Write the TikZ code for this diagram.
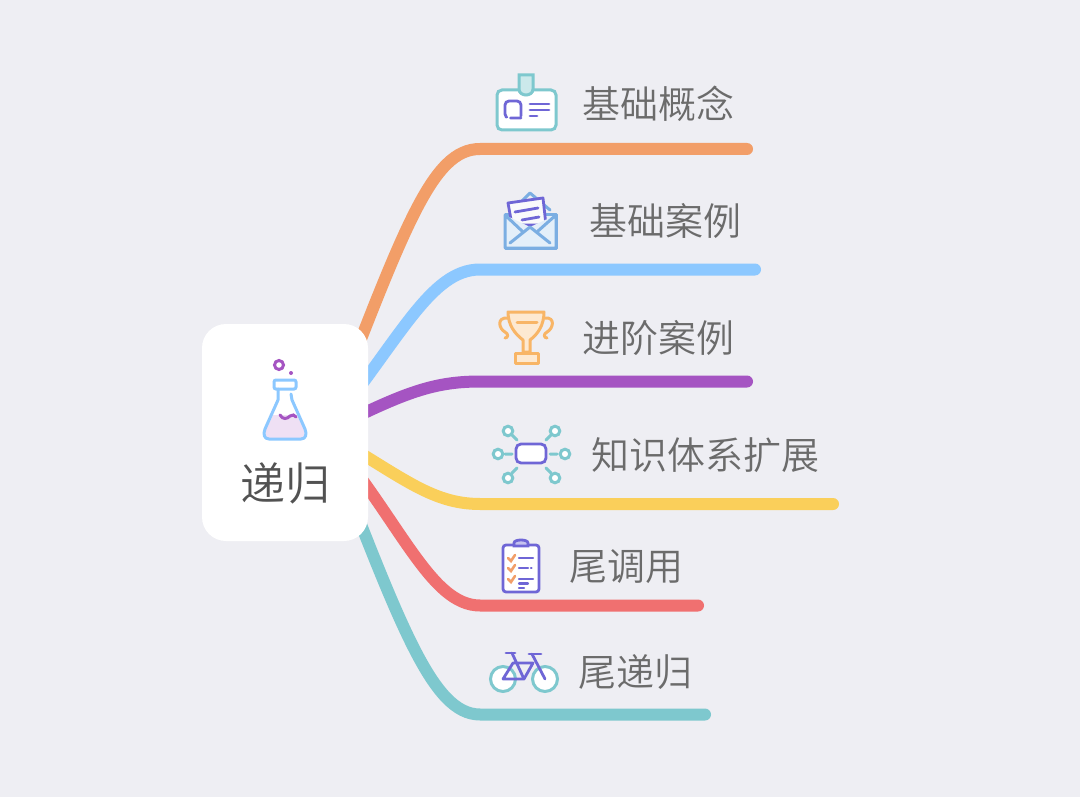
\documentclass[tikz,border=0pt]{standalone}
\usepackage{fontspec}
\setmainfont{Noto Sans CJK SC DemiLight}
\usetikzlibrary{arrows}
\pgfdeclarelayer{bg}
\pgfsetlayers{bg,main}
\definecolor{pagebg}{HTML}{EEEEF3}
\definecolor{cOrange}{HTML}{F29E68}
\definecolor{cBlue}{HTML}{8CC8FF}
\definecolor{cPurple}{HTML}{A554C2}
\definecolor{cYellow}{HTML}{FACF5A}
\definecolor{cRed}{HTML}{F07070}
\definecolor{cTeal}{HTML}{7EC8CE}
\definecolor{cIndigo}{HTML}{6F66D6}
\definecolor{cGold}{HTML}{F8B566}
\definecolor{cMail}{HTML}{7BAEE2}

\tikzset{
  idcard/.pic={
    \draw[teal line,fill=white,rounded corners=5pt] (-29,-12) rectangle (30,28);
    \draw[teal line,fill=cTeal!40] (-7,-27) -- (7,-27) -- (7,-13) .. controls (7,-5) and (-7,-5) .. (-7,-13) -- cycle;
    \draw[indigo line,rounded corners=4pt,dash pattern=on 44pt off 4pt on 16pt off 0pt] (-5,14) -- (-5,-1) -- (-21,-1) -- (-21,16) -- (-5,16);
    \draw[indigo line] (4,2) -- (23,2) (4,8) -- (23,8) (4,14) -- (11,14);
  },
  mailopen/.pic={
    \draw[mail line] (-10,-17) -- (0,-27) -- (20,-10);
    \draw[mail line,fill=cMail!20] (-25,-5) -- (-25,28) -- (26,28) -- (26,-5) -- cycle;
    \draw[indigo line,fill=pagebg!30!white,line join=round] (-22,-17) -- (13,-22) -- (16,5) -- (-18,5) -- cycle;
    \draw[indigo line] (-15,-8) -- (8,-12) (-8,0) -- (9,-3);
    \fill[cMail!20] (-25,-5) -- (0,7) -- (26,-5) -- (26,28) -- (-25,28) -- cycle;
    \draw[mail line] (-25,-5) -- (-25,28) -- (26,28) -- (26,-5) -- (8,11) (-8,11) -- (-25,-5) (-20,23) -- (0,7) -- (20,23);
  },
  trophy/.pic={
    \draw[gold line,fill=cGold!30] (-18,-25) -- (18,-25) .. controls (18,-12) and (12,-3) .. (4,3) -- (4,15) -- (-3,15) -- (-3,3) .. controls (-11,-3) and (-18,-12) .. cycle;
    \draw[gold line,fill=cGold!30] (-11,16) rectangle (12,26);
    \draw[gold line] (-18,-19) .. controls (-30,-20) and (-27,-8) .. (-21,-5) .. controls (-17,-3) and (-18,1) .. (-21,1);
    \draw[gold line] (19,-19) .. controls (30,-20) and (27,-8) .. (21,-5) .. controls (17,-3) and (18,1) .. (21,1);
    \draw[gold line] (-9,-15) -- (11,-15);
  },
  hubnet/.pic={
    \draw[indigo line,fill=white,rounded corners=5pt] (-15,-10) rectangle (15,9);
    \foreach \cx/\cy/\ax/\ay/\bx/\by in {-23/-23/-19/-19/-14/-14, 24/-23/20/-19/15/-14, -33/0/-26/0/-19/0, 34/0/26/0/19/0, -23/24/-19/19/-14/14, 24/24/20/19/15/14}
      \draw[teal line,fill=white] (\cx,\cy) circle (4.8) (\ax,\ay) -- (\bx,\by);
  },
  clipboard/.pic={
    \draw[indigo line,fill=white,rounded corners=3pt] (-18,-23) rectangle (18,24);
    \draw[indigo line,fill=cIndigo!40] (-7,-22) -- (-7,-25) .. controls (-7,-29) and (7,-29) .. (7,-25) -- (7,-22) -- cycle;
    \foreach \cy in {-10,0,11}
      \draw[check line] (-13,\cy) -- (-10,\cy+3) -- (-6,\cy-3);
    \draw[indigo line,line width=2.2pt] (-2,-10) -- (12,-10) (-2,0) -- (7,0) (10,0) -- (10.5,0) (-2,11) -- (12,11) (-2,15.5) -- (7,15.5) (-2,20) -- (3,20);
  },
  bike/.pic={
    \draw[teal line,fill=white] (-21,12) circle (12.5) (21,12) circle (12.5);
    \draw[indigo line] (-18,-14) -- (-9,-14) (5,-13) -- (17,-13);
    \draw[indigo line,line join=round] (-21,12) -- (-11,-4) -- (9,-4) -- (0,12) -- (-21,12) (-12,-14) -- (0,12) (8,-13) -- (21,12);
  },
  flask/.pic={
    \fill[cPurple!18] (-12,-17) -- (12,-17) -- (20,0) -- (18,6) -- (-18,6) -- (-20,0) -- cycle;
    \draw[flask line,rounded corners=2pt] (-11,-52) rectangle (11,-43);
    \draw[flask line,line join=round] (-7,-43) -- (-7,-32) -- (-20,-3) .. controls (-22,2) and (-21,7) .. (-16,7) -- (16,7) .. controls (21,7) and (22,2) .. (20,-3) -- (7,-32) -- (6,-38);
    \draw[cPurple,line width=3pt] (-6,-67) circle (4.5);
    \fill[cPurple] (6,-59) circle (2);
    \draw[cPurple,line width=3pt,line cap=round] (-5,-17) .. controls (-2,-12) and (2,-13) .. (5,-16) .. controls (7,-18) and (10,-17) .. (11,-15);
  }
}

\begin{document}
\begin{tikzpicture}[x=1pt,y=-1pt,
  teal line/.style={cTeal,line width=3pt,line cap=round},
  indigo line/.style={cIndigo,line width=2.8pt,line cap=round},
  mail line/.style={cMail,line width=3pt,line join=round,line cap=round},
  gold line/.style={cGold,line width=3pt,line join=round,line cap=round},
  flask line/.style={cBlue,line width=3pt,line cap=round},
  check line/.style={cOrange,line width=2.6pt,line cap=round},
  branch/.style={line width=12pt,line cap=round},
  root node/.style={fill=white,rounded corners=24pt,minimum width=166pt,minimum height=217pt,inner sep=0pt},
  root text/.style={text=black!68,font=\fontsize{45}{50}\selectfont,inner sep=0pt},
  topic node/.style={text=black!58,font=\fontsize{38}{42}\selectfont,inner sep=0pt}]
  \useasboundingbox (0,0) rectangle (1080,797);

  \node[root node] (root) at (285,432.5) {};
  \node[root text] (rootlabel) at (285,483) {递归};
  \pic at (285,432) {flask};

  \node[topic node] (concept) at (658,104) {基础概念};
  \node[topic node] (basic) at (665,221) {基础案例};
  \node[topic node] (advanced) at (658,338) {进阶案例};
  \node[topic node] (system) at (705,455) {知识体系扩展};
  \node[topic node] (tailcall) at (626.5,567) {尾调用};
  \node[topic node] (tailrec) at (635,672) {尾递归};

  \pic at (526,102) {idcard};
  \pic at (530,220) {mailopen};
  \pic at (526,337) {trophy};
  \pic at (531,454) {hubnet};
  \pic at (521,568) {clipboard};
  \pic at (524,667) {bike};

  \coordinate (hub) at (325,432);
  \coordinate (concept bend) at (480,149);
  \coordinate (concept end) at (747,149);
  \coordinate (basic bend) at (480,269.5);
  \coordinate (basic end) at (755,269.5);
  \coordinate (advanced bend) at (480,381.5);
  \coordinate (advanced end) at (747,381.5);
  \coordinate (system bend) at (480,504);
  \coordinate (system end) at (833,504);
  \coordinate (tailcall bend) at (480,605.5);
  \coordinate (tailcall end) at (698,605.5);
  \coordinate (tailrec bend) at (480,714.5);
  \coordinate (tailrec end) at (705,714.5);

  \begin{pgfonlayer}{bg}
    \fill[pagebg] (0,0) rectangle (1080,797);
    \draw[branch,cTeal] (hub) .. controls (400,625) and (432,714.5) .. (tailrec bend) -- (tailrec end);
    \draw[branch,cRed] (hub) .. controls (400,520) and (430,605.5) .. (tailcall bend) -- (tailcall end);
    \draw[branch,cYellow] (hub) .. controls (400,475) and (430,504) .. (system bend) -- (system end);
    \draw[branch,cOrange] (hub) .. controls (405,225) and (432,149) .. (concept bend) -- (concept end);
    \draw[branch,cBlue] (hub) .. controls (400,340) and (430,269.5) .. (basic bend) -- (basic end);
    \draw[branch,cPurple] (hub) .. controls (400,395) and (430,381.5) .. (advanced bend) -- (advanced end);
  \end{pgfonlayer}
\end{tikzpicture}
\end{document}
